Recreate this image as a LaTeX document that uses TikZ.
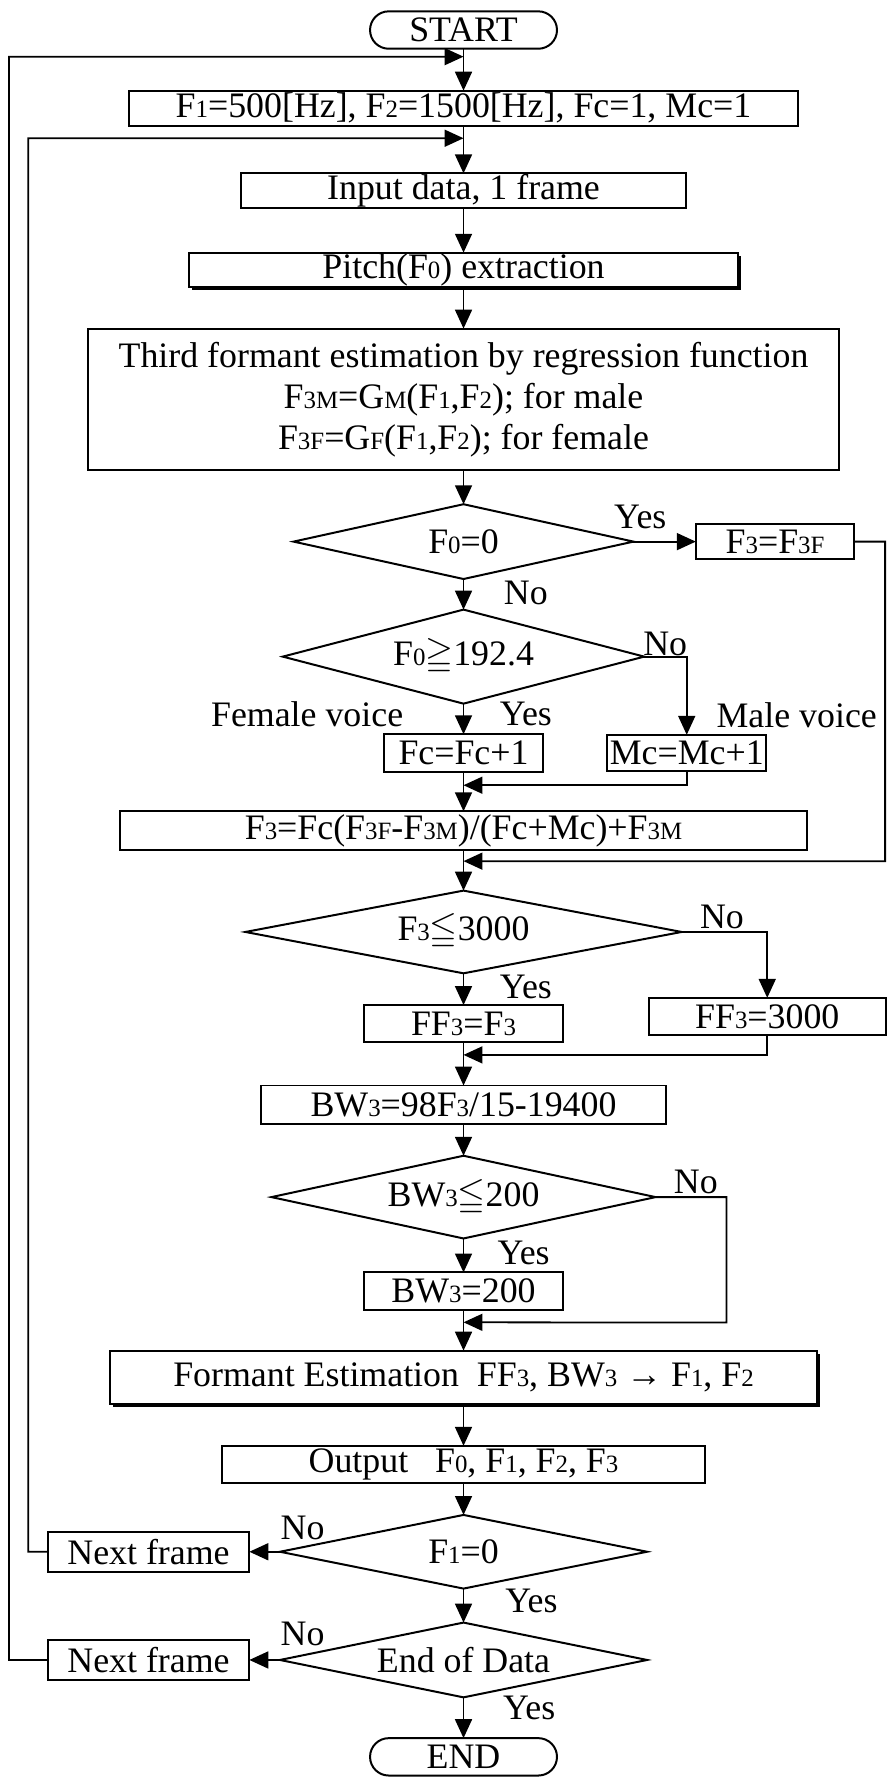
\documentclass[tikz,border=0pt]{standalone}
\usepackage{amssymb}
\usepackage{fontspec}
\setmainfont{Liberation Serif}
\usepackage{tikz}
\usetikzlibrary{arrows.meta,positioning,shapes.geometric,shadows}
\newcommand{\sm}[1]{{\fontsize{12.5}{12.5}\selectfont #1}}
\tikzset{
    bloco/.style={
        rectangle,
        draw,
        line width=1pt,
        inner sep=0pt,
        outer sep=0pt,
        align=center
    },
    sombra/.style={bloco, fill=white,
        drop shadow={shadow xshift=1.6pt, shadow yshift=-1.6pt, fill=black, opacity=1}},
    terminal/.style={bloco, rounded corners=0.33cm, minimum width=3.3cm, minimum height=0.66cm},
    decisao/.style={
        diamond,
        draw,
        line width=1pt,
        inner sep=0pt,
        outer sep=0pt,
        aspect=4.8,
        align=center
    },
    fluxo/.style={-{Triangle[length=9.5pt,width=8.5pt]}, line width=0.9pt},
    rotulo/.style={inner sep=0pt}
}

\begin{document}
\begin{tikzpicture}[x=0.02cm, y=-0.02cm, font=\fontsize{18}{20.5}\selectfont]
    \useasboundingbox (0,0) rectangle (783,1568);

    \node[terminal] (start) at (409,26.5) {START};
    \node[bloco, below=0.74cm of start, minimum width=11.8cm, minimum height=0.62cm] (init)
        {F\sm{1}=500[Hz], F\sm{2}=1500[Hz], Fc=1, Mc=1};
    \node[bloco, below=0.84cm of init, minimum width=7.84cm, minimum height=0.62cm] (input)
        {Input data, 1 frame};
    \node[sombra, below=0.78cm of input, minimum width=9.7cm, minimum height=0.6cm] (pitch)
        {Pitch(F\sm{0}) extraction};
    \node[bloco, below=0.74cm of pitch, minimum width=13.24cm, minimum height=2.5cm] (third)
        {Third formant estimation by regression function\\
         F\sm{3M}=G\sm{M}(F\sm{1},F\sm{2}); for male\\
         F\sm{3F}=G\sm{F}(F\sm{1},F\sm{2}); for female};
    \node[decisao, below=0.6cm of third, minimum width=6cm, minimum height=1.32cm] (d1)
        {F\sm{0}=0};
    \node[bloco, right=1.1cm of d1, minimum width=2.8cm, minimum height=0.62cm] (f3f)
        {F\sm{3}=F\sm{3F}};
    \node[decisao, below=0.54cm of d1, minimum width=6.38cm, minimum height=1.66cm] (d2)
        {F\sm{0}$\geqq$192.4};
    \node[bloco, below=0.54cm of d2, minimum width=2.8cm, minimum height=0.66cm] (fc)
        {Fc=Fc+1};
    \node[bloco, right=1.14cm of fc, minimum width=2.8cm, minimum height=0.64cm] (mc)
        {Mc=Mc+1};
    \node[bloco, below=0.7cm of fc, minimum width=12.12cm, minimum height=0.68cm] (f3)
        {F\sm{3}=Fc(F\sm{3F}-F\sm{3M})/(Fc+Mc)+F\sm{3M}};
    \node[decisao, below=0.72cm of f3, minimum width=7.7cm, minimum height=1.46cm] (d3)
        {F\sm{3}$\leqq$3000};
    \node[bloco, below=0.56cm of d3, minimum width=3.5cm, minimum height=0.66cm] (ff3)
        {FF\sm{3}=F\sm{3}};
    \node[bloco, minimum width=4.18cm, minimum height=0.66cm] (ff3k) at (677,897)
        {FF\sm{3}=3000};
    \node[bloco, below=0.76cm of ff3, minimum width=7.14cm, minimum height=0.68cm] (bw)
        {BW\sm{3}=98F\sm{3}/15-19400};
    \node[decisao, below=0.56cm of bw, minimum width=6.78cm, minimum height=1.46cm] (d4)
        {BW\sm{3}$\leqq$200};
    \node[bloco, below=0.6cm of d4, minimum width=3.5cm, minimum height=0.66cm] (bw200)
        {BW\sm{3}=200};
    \node[sombra, below=0.72cm of bw200, minimum width=12.48cm, minimum height=0.94cm] (formant)
        {Formant Estimation\ \ FF\sm{3}, BW\sm{3} → F\sm{1}, F\sm{2}};
    \node[bloco, below=0.74cm of formant, minimum width=8.54cm, minimum height=0.66cm] (output)
        {Output\ \ \ F\sm{0}, F\sm{1}, F\sm{2}, F\sm{3}};
    \node[decisao, below=0.56cm of output, minimum width=6.48cm, minimum height=1.3cm] (d5)
        {F\sm{1}=0};
    \node[bloco, left=0.54cm of d5, minimum width=3.56cm, minimum height=0.7cm] (nf1)
        {Next frame};
    \node[decisao, below=0.6cm of d5, minimum width=6.48cm, minimum height=1.32cm] (d6)
        {End of Data};
    \node[bloco, left=0.54cm of d6, minimum width=3.56cm, minimum height=0.7cm] (nf2)
        {Next frame};
    \node[terminal, below=0.72cm of d6] (end) {END};

    % pontos de juncao
    \coordinate[below=0.14cm of start] (la);
    \coordinate[below=0.22cm of init] (lb);
    \coordinate[below=0.24cm of fc] (m1);
    \coordinate[below=0.2cm of f3] (m2);
    \coordinate[below=0.22cm of ff3] (m3);
    \coordinate[below=0.22cm of bw200] (m4);
    \coordinate (esqA) at (8,50);
    \coordinate (esqB) at (25,122);
    \coordinate (dirA) at (781,760);
    \coordinate (dirB) at (641,1167);

    % rotulos
    \node[rotulo] (sim1) at (565,456) {Yes};
    \node[rotulo] (nao1) at (464,523) {No};
    \node[rotulo] (nao2) at (587,568) {No};
    \node[rotulo] (fem) at (271,630) {Female voice};
    \node[rotulo] (sim2) at (464,630) {Yes};
    \node[rotulo] (masc) at (703,631) {Male voice};
    \node[rotulo] (nao3) at (637,809) {No};
    \node[rotulo] (sim3) at (464,871) {Yes};
    \node[rotulo] (nao4) at (614,1043) {No};
    \node[rotulo] (sim4) at (462,1106) {Yes};
    \node[rotulo] (nao5) at (267,1348) {No};
    \node[rotulo] (sim5) at (469,1413) {Yes};
    \node[rotulo] (nao6) at (267,1442) {No};
    \node[rotulo] (sim6) at (467,1507) {Yes};

    \draw[fluxo] (start) -- (init);
    \draw[fluxo] (init) -- (input);
    \draw[fluxo] (input) -- (pitch);
    \draw[fluxo] (pitch) -- (third);
    \draw[fluxo] (third) -- (d1);
    \draw[fluxo] (d1) -- (d2);
    \draw[fluxo] (d2) -- (fc);
    \draw[fluxo] (fc) -- (f3);
    \draw[fluxo] (f3) -- (d3);
    \draw[fluxo] (d3) -- (ff3);
    \draw[fluxo] (ff3) -- (bw);
    \draw[fluxo] (bw) -- (d4);
    \draw[fluxo] (d4) -- (bw200);
    \draw[fluxo] (bw200) -- (formant);
    \draw[fluxo] (formant) -- (output);
    \draw[fluxo] (output) -- (d5);
    \draw[fluxo] (d5) -- (d6);
    \draw[fluxo] (d6) -- (end);

    \draw[fluxo] (d1.east) -- (f3f.west);
    \draw[fluxo] (f3f.east) -| (dirA) -- (m2);
    \draw[fluxo] (d2.east) -| (mc.north);
    \draw[fluxo] (mc.south) |- (m1);
    \draw[fluxo] (d3.east) -| (ff3k.north);
    \draw[fluxo] (ff3k.south) |- (m3);
    \draw[fluxo] (d4.east) -| (dirB) -- (m4);
    \draw[fluxo] (d5.west) -- (nf1.east);
    \draw[fluxo] (nf1.west) -| (esqB) -- (lb);
    \draw[fluxo] (d6.west) -- (nf2.east);
    \draw[fluxo] (nf2.west) -| (esqA) -- (la);
\end{tikzpicture}
\end{document}
